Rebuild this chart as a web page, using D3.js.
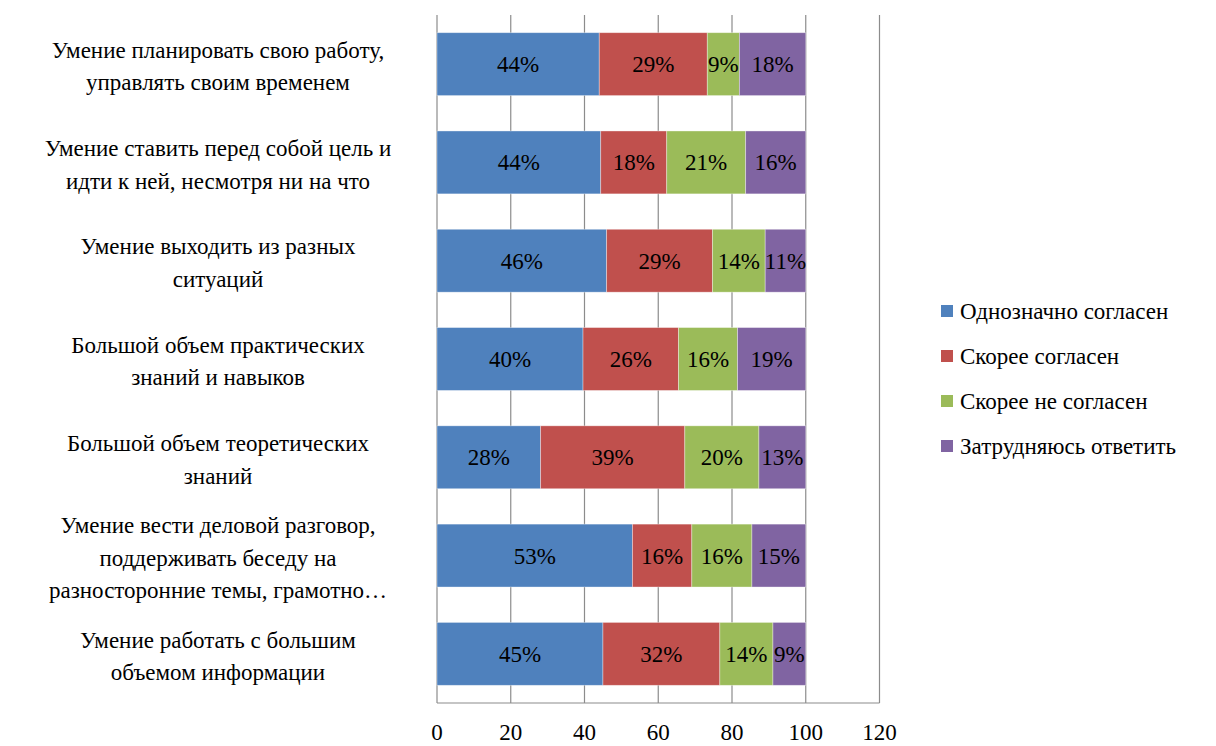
<!DOCTYPE html>
<html>
<head>
<meta charset="utf-8">
<script src="https://cdn.jsdelivr.net/npm/d3@7"></script>
<style>
  body { margin: 0; background: #fff; }
  .lg { font-family: Tinos, 'Liberation Serif'; }
</style>
</head>
<body>
<svg id="chart" width="1216" height="746"></svg>
<script>
// categories, top to bottom
var categories = [
  "Умение планировать свою работу,\nуправлять своим временем",
  "Умение ставить перед собой цель и\nидти к ней, несмотря ни на что",
  "Умение выходить из разных\nситуаций",
  "Большой объем практических\nзнаний и навыков",
  "Большой объем теоретических\nзнаний",
  "Умение вести деловой разговор,\nподдерживать беседу на\nразносторонние темы, грамотно…",
  "Умение работать с большим\nобъемом информации"
];
var seriesNames = ["Однозначно согласен", "Скорее согласен", "Скорее не согласен", "Затрудняюсь ответить"];
var colors = ["#4F81BD", "#C0504D", "#9BBB59", "#8064A2"];

var agree      = [44.0, 44.4, 46.0, 39.6, 28.1, 53.0, 45.0];
var ratherYes  = [29.3, 17.9, 28.7, 25.9, 39.1, 16.1, 31.7];
var ratherNo   = [8.7, 21.4, 14.3, 16.0, 20.1, 16.3, 14.4];
var hardToSay  = [18.0, 16.3, 11.0, 18.5, 12.7, 14.6, 8.9];
var xTicks = [0, 20, 40, 60, 80, 100, 120];

var rows = categories.map(function(c, i) {
  return { cat: c, vals: [agree[i], ratherYes[i], ratherNo[i], hardToSay[i]] };
});

var svg = d3.select('#chart');
var x = d3.scaleLinear().domain([0, 120]).range([437, 879.5]);
var y = d3.scaleBand().domain(categories).range([15, 703])
  .paddingInner(0.36).paddingOuter(0.18);

// gridlines
svg.append('g').selectAll('line')
  .data(xTicks)
  .enter().append('line')
  .attr('x1', function(d){ return x(d); })
  .attr('x2', function(d){ return x(d); })
  .attr('y1', 15).attr('y2', 703)
  .attr('stroke', '#8c8c8c').attr('stroke-width', 1.2);

// bottom axis line
svg.append('line')
  .attr('x1', x(0)).attr('x2', x(120))
  .attr('y1', 703).attr('y2', 703)
  .attr('stroke', '#8c8c8c').attr('stroke-width', 1.2);

// stacked segments
var segs = [];
rows.forEach(function(r) {
  var acc = 0;
  r.vals.forEach(function(v, k) {
    segs.push({ cat: r.cat, k: k, x0: acc, x1: acc + v, v: v });
    acc += v;
  });
});

var g = svg.append('g');
g.selectAll('rect')
  .data(segs)
  .enter().append('rect')
  .attr('x', function(d){ return x(d.x0); })
  .attr('y', function(d){ return y(d.cat); })
  .attr('width', function(d){ return x(d.x1) - x(d.x0); })
  .attr('height', y.bandwidth())
  .attr('fill', function(d){ return colors[d.k]; })
  .attr('stroke', 'rgba(255,255,255,0.45)')
  .attr('stroke-width', 0.8);

g.selectAll('text')
  .data(segs)
  .enter().append('text')
  .attr('x', function(d){ return (x(d.x0) + x(d.x1)) / 2; })
  .attr('y', function(d){ return y(d.cat) + y.bandwidth() / 2 + 8; })
  .attr('text-anchor', 'middle')
  .attr('font-size', 23)
  .style('font-family', function(){ return "'Tinos'"; })
  .text(function(d){ return Math.round(d.v) + '%'; });

// x tick labels
svg.append('g').selectAll('text')
  .data(xTicks)
  .enter().append('text')
  .attr('x', function(d){ return x(d); })
  .attr('y', 740)
  .attr('text-anchor', 'middle')
  .attr('font-size', 23)
  .attr('font-family', 'serif')
  .text(function(d){ return d; });

// category labels
var lh = 32.5;
svg.append('g').selectAll('text')
  .data(categories)
  .enter().append('text')
  .attr('text-anchor', 'middle')
  .attr('font-size', 23)
  .attr('font-family', 'Liberation Serif')
  .each(function(d) {
    var lines = d.split('\n');
    var cy = y(d) + y.bandwidth() / 2 + 2;
    var top = cy - (lines.length - 1) * lh / 2;
    var t = d3.select(this);
    lines.forEach(function(l, i) {
      t.append('tspan').attr('x', 218).attr('y', top + i * lh + 8).text(l);
    });
  });

// legend
var leg = svg.append('g').selectAll('g')
  .data(seriesNames)
  .enter().append('g')
  .attr('transform', function(d, i){ return 'translate(941,' + (311 + i * 45) + ')'; });
leg.append('rect')
  .attr('x', 0).attr('y', -6).attr('width', 12).attr('height', 12)
  .attr('fill', function(d, i){ return colors[i]; });
leg.append('text')
  .attr('class', 'lg')
  .attr('x', 19).attr('y', 8)
  .attr('font-size', 23)
  .text(function(d){ return d; });
</script>
</body>
</html>
